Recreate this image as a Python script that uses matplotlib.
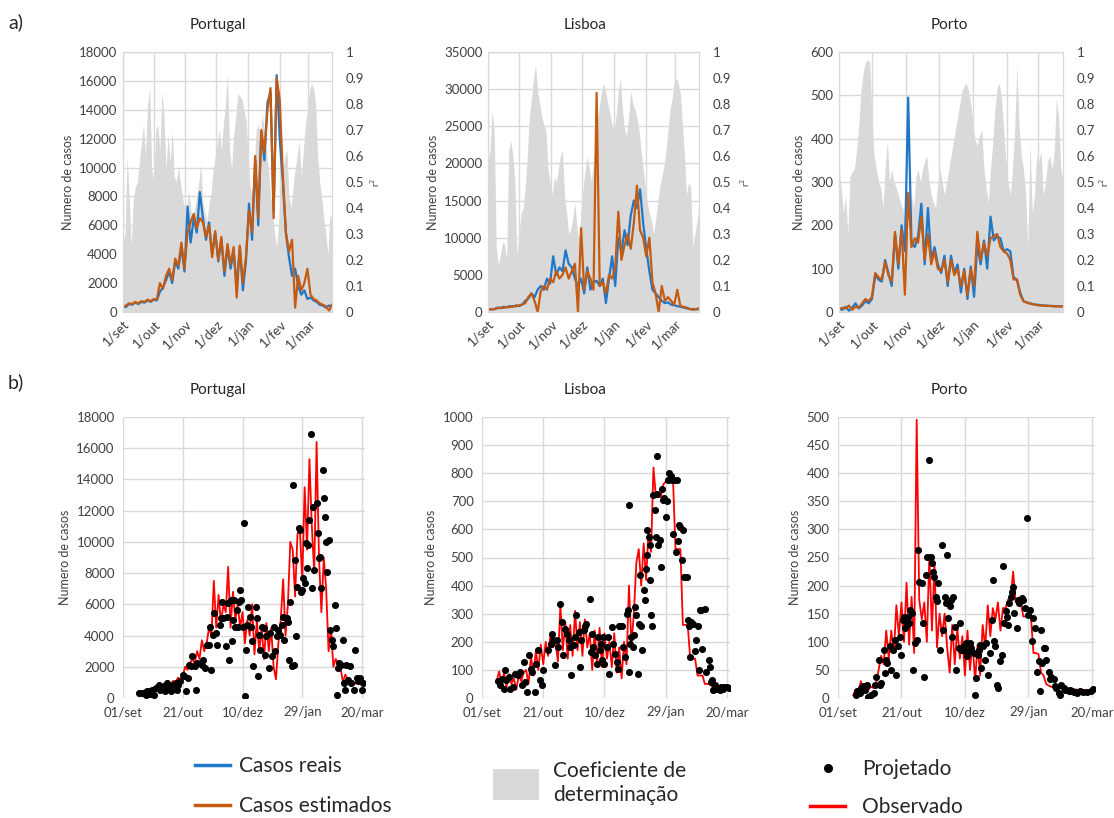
import numpy as np
import matplotlib
matplotlib.use("Agg")
import matplotlib.pyplot as plt
from matplotlib.lines import Line2D
from matplotlib.patches import Patch

plt.rcParams['font.family'] = ['Lato', 'DejaVu Sans']

# ---- x axis labels ----
top_tick_days = [0, 30, 61, 91, 122, 153, 181]
top_tick_labels = ['1/set', '1/out', '1/nov', '1/dez', '1/jan', '1/fev', '1/mar']
bot_tick_days = [0, 50, 100, 150, 200]
bot_tick_labels = ['01/set', '21/out', '10/dez', '29/jan', '20/mar']

# ---- a) daily cases, every 3 days from 1/set ----
pt_reais = [400, 350, 550, 500, 650, 550, 700, 650, 800, 700,
            850, 800, 1400, 1700, 2200, 2800, 2000, 3500, 3000, 4500,
            2800, 7300, 4800, 6500, 5500, 8300, 6500, 5000, 6200, 4000,
            5500, 3500, 5000, 2500, 4500, 3000, 4200, 1800, 4500, 1500,
            3500, 7500, 5000, 10500, 6000, 12500, 10500, 14500, 15200, 7000,
            16400, 12000, 9000, 5500, 3800, 2500, 3000, 1800, 1200, 1500,
            900, 1000, 800, 700, 500, 450, 300, 450, 400]
pt_estim = [350, 450, 600, 550, 700, 600, 750, 700, 850, 750,
            900, 850, 2000, 1600, 2500, 3000, 2200, 3700, 3200, 4800,
            3000, 5500, 6200, 6800, 5800, 6500, 6200, 5200, 6000, 3800,
            5600, 3600, 5200, 2800, 4700, 3300, 4500, 1000, 4600, 2000,
            3800, 7000, 5500, 10800, 6500, 12600, 11000, 14000, 15500, 6500,
            16200, 14700, 9500, 5500, 4200, 5000, 300, 2500, 1500, 2000,
            3000, 1200, 900, 800, 600, 500, 400, 100, 500]
lx_reais = [300, 400, 350, 600, 500, 700, 600, 800, 700, 900,
            800, 1000, 1500, 1800, 2500, 2000, 3000, 3500, 3000, 4500,
            3800, 7500, 5000, 6000, 5500, 8300, 6500, 6000, 4500, 3500,
            4500, 2500, 6000, 3000, 4000, 4200, 3500, 4500, 1200, 4500,
            7500, 3500, 10000, 8000, 11000, 9000, 13000, 15000, 14000, 16500,
            12000, 8500, 5500, 3000, 2500, 2000, 1500, 1200, 1300, 1000,
            900, 800, 700, 600, 500, 400, 400, 350, 400]
lx_estim = [300, 350, 400, 500, 600, 550, 700, 650, 800, 750,
            900, 1000, 1200, 2000, 2500, 1500, 0, 2800, 3500, 3000,
            4500, 4000, 5500, 4500, 5000, 6000, 4500, 5500, 6500, 0,
            11300, 3000, 5500, 4500, 3000, 29500, 3500, 4000, 2500, 5000,
            4500, 6000, 13500, 7000, 9000, 10500, 8500, 12000, 17000, 11000,
            10000, 7500, 10000, 4000, 2500, 0, 3500, 1500, 2000, 1500,
            1000, 3000, 800, 700, 600, 400, 300, 400, 500]
po_reais = [8, 5, 12, 3, 10, 20, 8, 15, 25, 20,
            30, 85, 75, 70, 120, 90, 60, 180, 100, 200,
            140, 495, 160, 150, 175, 250, 110, 240, 120, 150,
            110, 90, 130, 60, 130, 90, 110, 45, 100, 30,
            105, 35, 155, 110, 165, 100, 220, 165, 175, 170,
            140, 145, 140, 80, 75, 45, 25, 22, 20, 18,
            17, 16, 15, 15, 14, 14, 13, 13, 13]
po_estim = [5, 10, 8, 15, 5, 12, 10, 20, 30, 25,
            35, 90, 80, 75, 115, 85, 70, 185, 110, 190,
            40, 275, 150, 170, 160, 220, 120, 180, 110, 140,
            100, 95, 120, 70, 120, 85, 100, 60, 95, 40,
            100, 60, 185, 120, 160, 130, 170, 175, 180, 150,
            140, 135, 120, 75, 75, 40, 25, 22, 19, 18,
            16, 15, 15, 14, 14, 13, 13, 13, 13]

# ---- a) r2, every 2 days from 1/set ----
pt_r2 = [0.27, 0.30, 0.60, 0.45, 0.25, 0.43, 0.48, 0.50, 0.58, 0.65,
         0.72, 0.60, 0.80, 0.86, 0.55, 0.50, 0.70, 0.72, 0.62, 0.85,
         0.75, 0.55, 0.68, 0.58, 0.70, 0.52, 0.50, 0.56, 0.50, 0.44,
         0.40, 0.38, 0.47, 0.40, 0.33, 0.40, 0.45, 0.50, 0.57, 0.42,
         0.38, 0.35, 0.42, 0.46, 0.55, 0.60, 0.65, 0.70, 0.62, 0.72,
         0.80, 0.92, 0.62, 0.55, 0.68, 0.75, 0.84, 0.83, 0.82, 0.78,
         0.74, 0.62, 0.48, 0.45, 0.55, 0.70, 0.72, 0.68, 0.76, 0.70,
         0.62, 0.55, 0.45, 0.38, 0.30, 0.25, 0.35, 0.48, 0.55, 0.60,
         0.62, 0.45, 0.40, 0.48, 0.55, 0.60, 0.66, 0.52, 0.62, 0.72,
         0.78, 0.85, 0.88, 0.86, 0.80, 0.60, 0.50, 0.44, 0.36, 0.30,
         0.22, 0.38, 0.35]
lx_r2 = [0.58, 0.62, 0.78, 0.70, 0.25, 0.18, 0.22, 0.27, 0.26, 0.20,
         0.62, 0.66, 0.60, 0.50, 0.22, 0.30, 0.38, 0.40, 0.48, 0.60,
         0.75, 0.82, 0.90, 0.95, 0.85, 0.80, 0.75, 0.72, 0.70, 0.55,
         0.50, 0.45, 0.52, 0.50, 0.55, 0.60, 0.62, 0.45, 0.38, 0.30,
         0.32, 0.36, 0.42, 0.32, 0.28, 0.40, 0.48, 0.55, 0.60, 0.55,
         0.50, 0.58, 0.65, 0.75, 0.80, 0.85, 0.88, 0.84, 0.80, 0.76,
         0.72, 0.70, 0.76, 0.85, 0.90, 0.78, 0.70, 0.68, 0.75, 0.85,
         0.80, 0.78, 0.75, 0.70, 0.62, 0.55, 0.48, 0.42, 0.38, 0.35,
         0.30, 0.35, 0.42, 0.48, 0.52, 0.56, 0.62, 0.70, 0.78, 0.82,
         0.88, 0.90, 0.88, 0.84, 0.72, 0.60, 0.45, 0.50, 0.48, 0.25,
         0.30, 0.35, 0.40]
po_r2 = [0.55, 0.48, 0.38, 0.45, 0.30, 0.52, 0.54, 0.55, 0.62, 0.72,
         0.85, 0.92, 0.96, 0.97, 0.96, 0.75, 0.60, 0.55, 0.50, 0.48,
         0.40, 0.55, 0.66, 0.50, 0.55, 0.50, 0.48, 0.45, 0.42, 0.40,
         0.35, 0.32, 0.30, 0.45, 0.40, 0.52, 0.55, 0.50, 0.55, 0.58,
         0.60, 0.50, 0.45, 0.42, 0.40, 0.50, 0.55, 0.50, 0.45, 0.50,
         0.55, 0.60, 0.65, 0.70, 0.75, 0.80, 0.85, 0.87, 0.88, 0.85,
         0.80, 0.72, 0.66, 0.64, 0.68, 0.70, 0.55, 0.48, 0.42, 0.55,
         0.65, 0.78, 0.86, 0.88, 0.82, 0.70, 0.58, 0.50, 0.45, 0.55,
         0.70, 0.95, 0.72, 0.60, 0.55, 0.45, 0.25, 0.65, 0.38, 0.45,
         0.60, 0.58, 0.62, 0.45, 0.50, 0.58, 0.60, 0.55, 0.62, 0.82,
         0.75, 0.55, 0.50]

# ---- b) observed, every 2 days from 13/set (day 12) ----
pt_obs = [300, 400, 350, 500, 450, 600, 500, 700, 600, 800,
          700, 900, 800, 1000, 900, 1100, 1000, 1300, 1200, 1400,
          2000, 1800, 2200, 2500, 2200, 3000, 2500, 3700, 3000, 3500,
          4500, 4000, 7500, 4500, 6600, 4800, 6000, 5500, 8400, 4500,
          6800, 5000, 6000, 4500, 5500, 3500, 5000, 4000, 6000, 2800,
          5000, 3000, 4500, 2500, 4800, 3000, 4500, 2000, 1200, 3500,
          5000, 7600, 4000, 6000, 10000, 9500, 6500, 10500, 10800, 7500,
          13500, 9500, 15300, 11000, 8000, 16400, 9000, 5500, 9000, 7000,
          3000, 4500, 2000, 2500, 2200, 2000, 1000, 1500, 1200, 1000,
          1100, 900, 1000, 900, 850]
lx_obs = [60, 95, 50, 90, 40, 85, 50, 70, 30, 80,
          60, 90, 100, 50, 150, 80, 170, 100, 190, 120,
          200, 150, 230, 180, 200, 130, 330, 170, 270, 140,
          260, 150, 310, 170, 270, 150, 280, 180, 230, 100,
          240, 120, 250, 110, 230, 140, 200, 110, 230, 90,
          180, 70, 200, 120, 400, 190, 300, 480, 530, 400,
          550, 420, 600, 520, 820, 715, 715, 715, 760, 770,
          775, 775, 775, 530, 530, 530, 260, 260, 260, 140,
          140, 140, 80, 80, 80, 50, 50, 50, 40, 40,
          40, 38, 38, 40, 40]
po_obs = [5, 15, 8, 30, 10, 25, 15, 20, 18, 25,
          50, 75, 60, 120, 70, 120, 80, 165, 110, 170,
          100, 205, 95, 180, 80, 495, 175, 140, 170, 100,
          255, 120, 240, 90, 150, 110, 150, 90, 45, 130,
          60, 125, 70, 110, 40, 120, 50, 100, 30, 95,
          40, 130, 90, 165, 110, 160, 140, 170, 120, 160,
          160, 175, 175, 225, 170, 175, 170, 145, 145, 145,
          145, 80, 80, 78, 45, 40, 25, 22, 20, 19,
          18, 18, 17, 17, 16, 16, 15, 15, 15, 14,
          14, 14, 14, 13, 13]

# ---- b) projected (dots): day since 1/set and value ----
pt_proj_day = [13, 16, 19, 20, 23, 24, 26, 28, 30, 31,
               34, 35, 37, 38, 40, 42, 44, 45, 46, 48,
               50, 51, 53, 54, 55, 57, 58, 60, 61, 62,
               65, 66, 67, 69, 70, 72, 73, 74, 75, 76,
               78, 79, 81, 82, 83, 84, 86, 87, 88, 89,
               90, 91, 92, 93, 94, 95, 96, 97, 98, 99,
               100, 101, 102, 103, 104, 105, 106, 107, 108, 109,
               111, 112, 113, 114, 115, 116, 118, 119, 120, 122,
               123, 125, 126, 127, 129, 130, 131, 133, 134, 135,
               136, 137, 138, 139, 140, 141, 142, 143, 144, 145,
               146, 147, 148, 149, 150, 151, 152, 153, 154, 155,
               156, 157, 158, 159, 160, 162, 163, 164, 165, 166,
               167, 168, 169, 170, 171, 172, 173, 175, 176, 177,
               178, 179, 180, 181, 182, 184, 185, 186, 187, 188,
               190, 191, 193, 194, 196, 197, 198, 200, 201]
pt_proj_val = [300, 350, 200, 430, 280, 490, 210, 640, 850, 530,
               750, 430, 960, 640, 430, 850, 960, 530, 850, 1070,
               1490, 1380, 430, 1280, 2130, 2070, 2660, 2020, 490, 2240,
               2240, 2130, 2450, 1920, 3410, 3410, 4580, 1810, 4050, 5430,
               4150, 3410, 4690, 5110, 6180, 5110, 3300, 5220, 6070, 2450,
               6280, 3620, 5010, 6280, 4580, 5640, 4580, 6180, 6920, 6280,
               4580, 11180, 110, 3090, 4690, 5860, 5220, 4580, 3620, 2020,
               5860, 5110, 1380, 4050, 3090, 4580, 4470, 2770, 3940, 1920,
               4150, 2660, 4580, 2980, 3940, 4370, 4050, 4690, 5220, 3730,
               5110, 5110, 4900, 2450, 6180, 2020, 13630, 2130, 8840, 3940,
               7140, 10860, 10760, 6820, 6920, 7670, 7350, 9900, 8310, 9800,
               11400, 16930, 7030, 12250, 8200, 12460, 10540, 8950, 9050, 7030,
               14590, 12780, 11610, 10010, 8090, 10120, 4370, 3730, 3300, 5960,
               4470, 210, 1920, 2240, 2130, 3730, 960, 530, 2130, 1170,
               2020, 960, 530, 3090, 1280, 1070, 1280, 530, 960]
lx_proj_day = [13, 15, 16, 18, 19, 20, 22, 23, 25, 27,
               29, 31, 33, 34, 35, 37, 38, 40, 41, 43,
               44, 46, 47, 49, 50, 54, 56, 57, 58, 60,
               61, 62, 64, 65, 66, 68, 69, 71, 72, 73,
               75, 76, 77, 79, 80, 81, 83, 84, 85, 88,
               89, 90, 91, 92, 94, 95, 96, 97, 98, 99,
               100, 102, 103, 104, 106, 107, 109, 110, 111, 112,
               113, 114, 115, 117, 118, 119, 120, 121, 122, 123,
               124, 125, 126, 127, 128, 129, 130, 131, 132, 133,
               134, 135, 136, 137, 137, 138, 139, 140, 141, 142,
               143, 143, 144, 145, 146, 147, 148, 149, 150, 151,
               152, 153, 154, 155, 156, 157, 158, 159, 160, 161,
               162, 163, 164, 165, 167, 168, 169, 170, 171, 172,
               174, 175, 176, 177, 178, 179, 180, 182, 183, 185,
               186, 187, 188, 189, 190, 191, 193, 194, 195, 197,
               198, 200, 202, 120, 135]
lx_proj_val = [60, 45, 69, 33, 98, 63, 75, 33, 39, 87,
               81, 93, 45, 128, 57, 21, 152, 104, 93, 21,
               122, 170, 63, 45, 98, 170, 193, 229, 205, 116,
               205, 181, 335, 270, 152, 247, 229, 205, 181, 81,
               187, 217, 294, 235, 110, 205, 241, 258, 264, 353,
               164, 229, 181, 152, 122, 217, 170, 193, 134, 217,
               122, 181, 217, 87, 253, 193, 158, 128, 104, 258,
               258, 258, 181, 146, 300, 312, 93, 193, 217, 181,
               223, 324, 294, 87, 264, 436, 258, 170, 383, 347,
               460, 508, 573, 543, 419, 294, 258, 721, 668, 573,
               860, 727, 543, 561, 466, 745, 703, 710, 644, 700,
               775, 800, 790, 775, 585, 775, 520, 775, 560, 615,
               610, 490, 597, 430, 430, 279, 258, 146, 270, 264,
               167, 205, 257, 98, 312, 312, 175, 316, 93, 134,
               110, 57, 63, 27, 45, 33, 37, 27, 39, 33,
               39, 39, 36, 688, 597]
po_proj_day = [14, 15, 17, 18, 20, 21, 23, 24, 26, 28,
               29, 30, 32, 33, 34, 36, 37, 38, 39, 41,
               42, 43, 45, 46, 47, 49, 50, 51, 52, 53,
               54, 55, 56, 57, 58, 59, 61, 62, 63, 64,
               66, 67, 68, 69, 70, 72, 73, 74, 75, 76,
               77, 78, 79, 80, 82, 83, 84, 85, 86, 87,
               88, 89, 90, 91, 92, 93, 95, 96, 97, 99,
               100, 101, 102, 103, 104, 105, 107, 108, 109, 110,
               111, 112, 113, 114, 116, 117, 118, 120, 121, 122,
               123, 124, 125, 126, 128, 129, 130, 131, 132, 133,
               134, 135, 136, 137, 138, 139, 141, 142, 143, 145,
               146, 147, 149, 150, 151, 153, 154, 155, 157, 158,
               159, 160, 161, 162, 163, 164, 166, 167, 168, 170,
               171, 172, 174, 175, 176, 178, 179, 180, 182, 183,
               184, 186, 187, 188, 191, 193, 196, 199, 201]
po_proj_val = [6, 12, 9, 18, 22, 15, 24, 2, 6, 9,
               24, 38, 68, 24, 27, 86, 44, 68, 62, 92,
               50, 86, 104, 41, 92, 109, 77, 139, 145, 124,
               130, 145, 133, 157, 151, 50, 98, 104, 263, 207,
               204, 133, 38, 219, 251, 423, 251, 240, 225, 216,
               180, 172, 204, 86, 272, 121, 180, 169, 254, 142,
               163, 175, 109, 180, 127, 50, 89, 133, 86, 92,
               83, 98, 74, 83, 98, 89, 80, 6, 36, 77,
               86, 95, 53, 92, 68, 98, 41, 80, 139, 210,
               101, 92, 24, 18, 65, 77, 234, 133, 154, 145,
               130, 169, 180, 189, 198, 151, 124, 175, 169, 178,
               175, 160, 320, 148, 157, 101, 142, 124, 47, 65,
               12, 121, 62, 89, 89, 68, 47, 33, 38, 33,
               21, 18, 9, 6, 24, 18, 15, 14, 12, 14,
               12, 10, 11, 9, 12, 10, 11, 12, 16]

BLUE = '#1f77c8'
ORANGE = '#c55a11'
FILL = '#d9d9d9'
GRID = '#d9d9d9'
TXT = '#404040'
W, H = 1114, 818

fig = plt.figure(figsize=(W / 100, H / 100), dpi=100)


def add_ax(left, right, top, bottom):
    return fig.add_axes([left / W, 1 - bottom / H, (right - left) / W, (bottom - top) / H])


def top_panel(box, reais, estim, r2, ymax, ystep, r2_label_px):
    ax = add_ax(*box)
    d3 = np.arange(len(reais)) * 3
    d2 = np.arange(len(r2)) * 2
    # r2 goes 0..1 over the full height, so draw it in axis-fraction y
    ax.fill_between(d2, r2, 0, color=FILL, lw=0, zorder=1,
                    transform=ax.get_xaxis_transform())
    ax.plot(d3, reais, color=BLUE, lw=1.6, zorder=3)
    ax.plot(d3, estim, color=ORANGE, lw=1.6, zorder=4)
    ax.set_xlim(0, 204)
    ax.set_ylim(0, ymax)
    ax.set_yticks(np.arange(0, ymax + 1, ystep))
    ax.set_xticks(top_tick_days)
    ax.set_xticklabels(top_tick_labels, rotation=45, ha='right', rotation_mode='anchor')
    ax.grid(True, color=GRID, lw=1, zorder=0)
    ax.set_axisbelow(True)
    ax.tick_params(length=0, labelsize=9.5, labelcolor=TXT, pad=4)
    ax.set_ylabel('Numero de casos', fontsize=9, color=TXT)
    ax2 = ax.twinx()
    ax2.set_ylim(0, 1)
    ticks = np.round(np.arange(0, 1.01, 0.1), 1)
    ax2.set_yticks(ticks)
    ax2.set_yticklabels(['0' if t == 0 else '1' if t == 1 else f'{t:.1f}' for t in ticks])
    ax2.tick_params(length=0, labelsize=9.5, labelcolor=TXT, pad=10)
    ax2.set_ylabel('r$^2$', fontsize=7, color=TXT)
    ax2.yaxis.set_label_coords((r2_label_px - box[0]) / (box[1] - box[0]), 0.5)
    for a in (ax, ax2):
        for s in a.spines.values():
            s.set_color(GRID)
    return ax


def bottom_panel(box, obs, pday, pval, ymax, ystep):
    ax = add_ax(*box)
    dd = 12 + np.arange(len(obs)) * 2
    ax.plot(dd, obs, color='#ff0000', lw=1.3, zorder=2)
    ax.scatter(pday, pval, s=26, color='black', lw=0, zorder=3)
    ax.set_xlim(0, 202.5)
    ax.set_ylim(0, ymax)
    ax.set_yticks(np.arange(0, ymax + 1, ystep))
    ax.set_xticks(bot_tick_days)
    ax.set_xticklabels(bot_tick_labels)
    ax.grid(True, color=GRID, lw=1, zorder=0)
    ax.set_axisbelow(True)
    for s in ax.spines.values():
        s.set_visible(False)
    ax.tick_params(length=0, labelsize=9.5, labelcolor=TXT, pad=6)
    ax.set_ylabel('Numero de casos', fontsize=9, color=TXT)
    return ax


top_panel((123, 332, 52, 312), pt_reais, pt_estim, pt_r2, 18000, 2000, 368)
top_panel((488, 699, 52, 312), lx_reais, lx_estim, lx_r2, 35000, 5000, 738)
top_panel((839, 1063, 52, 312), po_reais, po_estim, po_r2, 600, 100, 1097)

bottom_panel((123, 365, 417, 698), pt_obs, pt_proj_day, pt_proj_val, 18000, 2000)
bottom_panel((482, 730, 417, 698), lx_obs, lx_proj_day, lx_proj_val, 1000, 100)
bottom_panel((838, 1095, 417, 698), po_obs, po_proj_day, po_proj_val, 500, 50)

# titles and panel letters
for x, y, name in [(218, 25, 'Portugal'), (585, 25, 'Lisboa'), (949, 25, 'Porto'),
                   (218, 390, 'Portugal'), (585, 390, 'Lisboa'), (949, 390, 'Porto')]:
    fig.text(x / W, 1 - y / H, name, ha='center', va='center', fontsize=11, color='#262626')
fig.text(8 / W, 1 - 22 / H, 'a)', ha='left', va='center', fontsize=14, color='#262626')
fig.text(8 / W, 1 - 382 / H, 'b)', ha='left', va='center', fontsize=14, color='#262626')

# legends
leg_kw = dict(frameon=False, fontsize=15, borderpad=0, borderaxespad=0,
              labelcolor='#262626')
fig.legend([Line2D([], [], color=BLUE, lw=2.5), Line2D([], [], color=ORANGE, lw=2.5)],
           ['Casos reais', 'Casos estimados'], loc='center left',
           bbox_to_anchor=(195 / W, 1 - 786 / H), handlelength=1.7,
           handletextpad=0.4, labelspacing=0.95, **leg_kw)
fig.legend([Patch(facecolor=FILL, edgecolor='none')], ['Coeficiente de\ndeterminação'],
           loc='center left', bbox_to_anchor=(493 / W, 1 - 783 / H),
           handlelength=2.2, handleheight=1.95, handletextpad=0.7, **leg_kw)
fig.legend([Line2D([], [], color='black', marker='o', ls='none', markersize=5.5),
            Line2D([], [], color='#ff0000', lw=2.5)],
           ['Projetado', 'Observado'], loc='center left',
           bbox_to_anchor=(810 / W, 1 - 788 / H), handlelength=1.7,
           handletextpad=0.8, labelspacing=0.85, **leg_kw)

fig.savefig('out.png', dpi=100)
